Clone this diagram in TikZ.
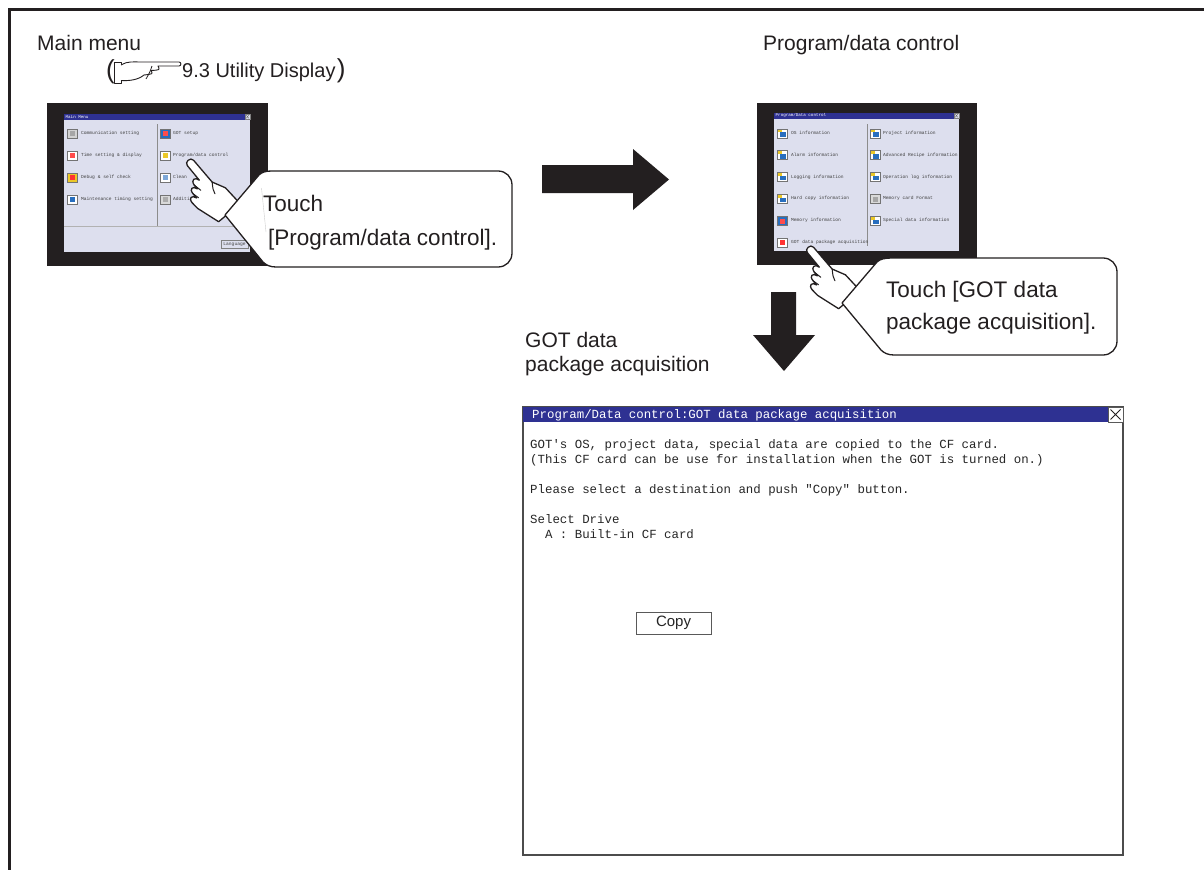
\documentclass[tikz,border=0pt]{standalone}
\usepackage{fontspec}
\setmainfont{Liberation Sans}
\newfontfamily\scrmono{Liberation Mono}
\definecolor{ink}{RGB}{35,31,32}
\definecolor{lcdbg}{RGB}{221,223,238}
\definecolor{titleblue}{RGB}{46,49,146}
\definecolor{iconblue}{RGB}{40,110,190}
\definecolor{iconyel}{RGB}{235,200,40}

% generic two-colour menu icon: x, y (centre line), background, foreground
\newcommand\mmicon[4]{%
  \fill[#3] (#1,#2-4.5) rectangle (#1+10,#2+4.5);
  \fill[#4] (#1+2.5,#2-2) rectangle (#1+8,#2+3);
  \draw[black!55, line width=0.3pt] (#1,#2-4.5) rectangle (#1+10,#2+4.5);}
% data-information icon: white card, blue window, yellow tag
\newcommand\pdicon[2]{%
  \fill[white] (#1,#2-4.5) rectangle (#1+10,#2+4.5);
  \fill[iconblue] (#1+3,#2-1) rectangle (#1+9,#2+3.5);
  \fill[iconyel] (#1,#2-4.5) rectangle (#1+4.5,#2-1);
  \draw[black!55, line width=0.3pt] (#1,#2-4.5) rectangle (#1+10,#2+4.5);}
% pointing hand, tip at the local origin, pointing along +x
\newcommand\pointhand{%
  \draw[ink, line width=1.3pt, fill=white, line join=round]
    (-62,-11) -- (-42,-10) -- (-30,-4) -- (-3.5,-3.8)
    .. controls (0.8,-3.8) and (0.8,3.8) .. (-3.5,3.8) -- (-21,4)
    .. controls (-16,5) and (-15.5,10) .. (-21.5,10.5) -- (-26,10.5)
    .. controls (-21,12) and (-21,16.5) .. (-27,16.5) -- (-32,16.5)
    .. controls (-27,18) and (-27,22.5) .. (-33,22.5) -- (-40,22)
    -- (-62,15) -- cycle;
  \draw[ink, line width=1pt, line cap=round]
    (-21.5,10.5) -- (-29,9) (-27,16.5) -- (-33,15) (-30,-4) .. controls (-36,0) .. (-40,1);}

\begin{document}
\begin{tikzpicture}[x=1pt, y=-1pt,
  lbl/.style={anchor=base west, inner sep=0pt, text=ink, font=\fontsize{21}{25}\selectfont},
  calltxt/.style={anchor=base west, inner sep=0pt, text=ink, font=\fontsize{22.5}{26}\selectfont},
  scrtxt/.style={anchor=west, inner sep=0pt, text=black!75, font=\scrmono\fontsize{4.6}{5}\selectfont},
  scrtitle/.style={anchor=west, inner sep=0pt, text=white, font=\scrmono\fontsize{4.2}{5}\selectfont},
  wintxt/.style={anchor=base west, inner sep=0pt, text=black!85, font=\scrmono\fontsize{12.4}{15}\selectfont},
  callout/.style={draw=ink, line width=1.3pt, fill=white, line join=round},
  bigarrow/.style={fill=ink}]
\useasboundingbox (0,0) rectangle (1204,870);
\fill[white] (0,0) rectangle (1204,870);

% page frame
\draw[ink, line width=2.5pt] (1204,9.5) -- (9.5,9.5) -- (9.5,870);

% ---------- headings ----------
\node[lbl] (lblMain) at (37,50) {Main menu};
\node[anchor=base west, inner sep=0pt, text=ink, font=\fontsize{26}{30}\selectfont] (parL) at (106,78) {(};
% reference hand symbol
\draw[ink, line width=0.9pt, line join=round, fill=white] (114.5,62.5) rectangle (121,83);
\draw[ink, line width=0.9pt, line join=round, fill=white]
  (121,65) .. controls (127,61) and (134,62) .. (140,62) -- (179,62)
  .. controls (181.5,62) and (181.5,66) .. (179,66) -- (158,66)
  .. controls (160,70) .. (151,70.5) .. controls (153,74) .. (144,75)
  .. controls (138,80) and (129,81) .. (121,80.5);
\draw[ink, line width=0.8pt] (152,66) .. controls (150,72) .. (146,79);
\node[anchor=base west, inner sep=0pt, text=ink, font=\fontsize{20}{24}\selectfont] (refTxt) at (182,77) {9.3 Utility Display};
\node[anchor=base west, inner sep=0pt, text=ink, font=\fontsize{26}{30}\selectfont] (parR) at ([xshift=1pt]refTxt.base east) {)};

\node[lbl] (lblPD) at (763,50) {Program/data control};

% ---------- main menu screen ----------
\fill[ink] (47,103) rectangle (268,266);
\fill[lcdbg] (64,114) rectangle (250,252);
\fill[titleblue] (64,114) rectangle (245,119.5);
\draw[black!50, fill=lcdbg, line width=0.3pt] (245,114) rectangle (250,119.5);
\draw[black!60, line width=0.3pt] (246,115) -- (249,118.5) (249,115) -- (246,118.5);
\node[scrtitle] (mmTitle) at (65.5,116.8) {Main Menu};
\draw[black!45, line width=0.5pt] (157,124) -- (157,226);
\draw[black!30, line width=0.5pt] (64,226) -- (250,226);
\draw[black!50, fill=lcdbg, line width=0.4pt] (221,240) rectangle (248,248);
\node[scrtxt, anchor=center] (mmLang) at (234.5,244) {Language};

\mmicon{67}{133.3}{gray!35}{gray!70}
\mmicon{67}{155.3}{white}{red!70}
\mmicon{67}{177.3}{iconyel}{red!80}
\mmicon{67}{199.3}{white}{iconblue}
\mmicon{160}{133.3}{iconblue}{red!70}
\mmicon{160}{155.3}{white}{iconyel}
\mmicon{160}{177.3}{white}{iconblue!60}
\mmicon{160}{199.3}{gray!30}{gray!65}
\foreach \t [count=\i] in {{Communication setting},{Time setting \& display},{Debug \& self check},{Maintenance timing setting}}
  \node[scrtxt] (mmL\i) at (81,{133.3+(\i-1)*22}) {\t};
\foreach \t [count=\i] in {{GOT setup},{Program/data control},{Clean},{Addition setting}}
  \node[scrtxt] (mmR\i) at (173,{133.3+(\i-1)*22}) {\t};

% touching hand and its callout
\begin{scope}[shift={(188,160)}, rotate=130, x=1pt, y=1pt, scale=1.08]
  \pointhand
\end{scope}
\draw[callout]
  (272,171) -- (498,171) .. controls (506,171) and (512,177) .. (512,185)
  -- (512,253) .. controls (512,261) and (506,267) .. (498,267)
  -- (276,267) .. controls (270,267) and (266,265) .. (263,262)
  -- (225,215) -- (259,175) .. controls (262,172) and (266,171) .. (272,171) -- cycle;
\draw[gray!40, line width=0.4pt] (261.5,188) -- (266,232);
\node[calltxt] (c1a) at (263,211) {Touch};
\node[calltxt] (c1b) at (268,245) {[Program/data control].};

% step arrow to the right
\fill[bigarrow] (542,165) -- (633,165) -- (633,149) -- (669,179.5) -- (633,210) -- (633,193) -- (542,193) -- cycle;

% ---------- program/data control screen ----------
\fill[ink] (757,103) rectangle (977,265);
\fill[lcdbg] (774,113) rectangle (959,251);
\fill[titleblue] (774,113) rectangle (954,118.5);
\draw[black!50, fill=lcdbg, line width=0.3pt] (954,113) rectangle (959,118.5);
\draw[black!60, line width=0.3pt] (955,114) -- (958,117.5) (958,114) -- (955,117.5);
\node[scrtitle] (pdTitle) at (775.5,115.8) {Program/Data control};
\draw[black!45, line width=0.5pt] (867,124) -- (867,246);

\pdicon{777}{133.3}
\pdicon{777}{155.1}
\pdicon{777}{176.9}
\pdicon{777}{198.7}
\mmicon{777}{220.5}{iconblue}{red!70}
\mmicon{777}{242.3}{white}{red!80}
\pdicon{870}{133.3}
\pdicon{870}{155.1}
\pdicon{870}{176.9}
\mmicon{870}{198.7}{gray!30}{gray!70}
\pdicon{870}{220.5}
\foreach \t [count=\i] in {{OS information},{Alarm information},{Logging information},{Hard copy information},{Memory information},{GOT data package acquisition}}
  \node[scrtxt] (pdL\i) at (791,{133.3+(\i-1)*21.8}) {\t};
\foreach \t [count=\i] in {{Project information},{Advanced Recipe information},{Operation log information},{Memory card Format},{Special data information}}
  \node[scrtxt] (pdR\i) at (883,{133.3+(\i-1)*21.8}) {\t};

\begin{scope}[shift={(808,247)}, rotate=130, x=1pt, y=1pt, scale=1.08]
  \pointhand
\end{scope}
\draw[callout]
  (892,258) -- (1103,258) .. controls (1111,258) and (1117,264) .. (1117,272)
  -- (1117,341) .. controls (1117,349) and (1111,355) .. (1103,355)
  -- (894,355) .. controls (888,355) and (884,353) .. (881,350)
  -- (842,303) -- (877,262) .. controls (880,259) and (885,258) .. (892,258) -- cycle;
\node[calltxt] (c2a) at (886,297) {Touch [GOT data};
\node[calltxt] (c2b) at (886,329) {package acquisition].};

% step arrow downwards
\fill[bigarrow] (771,292) -- (796,292) -- (796,335) -- (815,335) -- (784,371) -- (753,335) -- (771,335) -- cycle;

\node[lbl] (lblGOT1) at (525,347) {GOT data};
\node[lbl] (lblGOT2) at (525,371) {package acquisition};

% ---------- GOT data package acquisition window ----------
\draw[black!70, line width=1.6pt, fill=white] (523,407) rectangle (1123,855);
\fill[titleblue] (523,407) rectangle (1108,422);
\draw[black!65, line width=0.8pt, fill=white] (1108,407) rectangle (1123,422);
\draw[ink, line width=0.9pt] (1110.5,409.5) -- (1120.5,419.5) (1120.5,409.5) -- (1110.5,419.5);
\node[wintxt, text=white] (winTitle) at (532,418.5) {Program/Data control:GOT data package acquisition};
\node[wintxt] (w1) at (530,448) {GOT's OS, project data, special data are copied to the CF card.};
\node[wintxt] (w2) at (530,463) {(This CF card can be use for installation when the GOT is turned on.)};
\node[wintxt] (w3) at (530,493) {Please select a destination and push "Copy" button.};
\node[wintxt] (w4) at (530,523) {Select Drive};
\node[wintxt] (w5) at (530,538) {\ \ A : Built-in CF card};
\node[draw=black!65, line width=1pt, fill=white, minimum width=75pt, minimum height=22pt, inner sep=0pt,
      text=black!85, font=\fontsize{15}{16}\selectfont] (copyBtn) at (673.5,623) {Copy};
\end{tikzpicture}
\end{document}
